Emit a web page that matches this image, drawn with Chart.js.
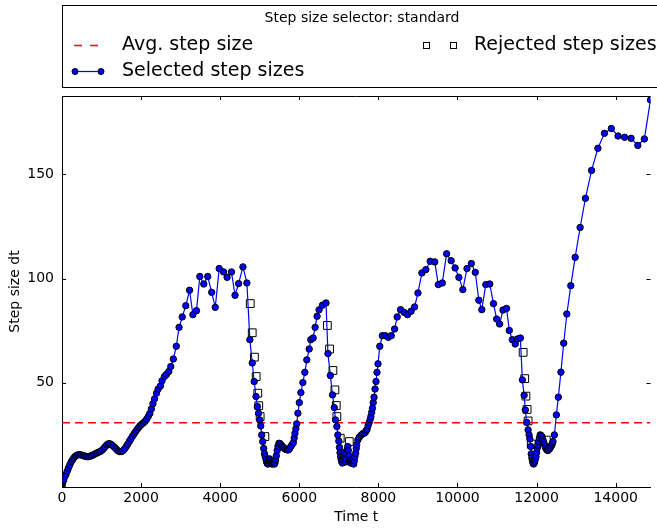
<!DOCTYPE html>
<html>
<head>
<meta charset="utf-8">
<script src="https://cdn.jsdelivr.net/npm/chart.js@4.4.1/dist/chart.umd.min.js"></script>
<style>
  html, body { margin: 0; padding: 0; background: #fff; }
  canvas { display: block; }
</style>
</head>
<body>
<canvas id="stepChart" width="657" height="530"></canvas>
<script>
// Tiempos de los pasos aceptados (t) y su tamaño (dt)
const stepTimes = [
  0, 10, 25, 45, 70, 100, 130, 160, 195, 230, 265, 300, 340, 380, 420, 460, 500, 540, 580, 620,
  660, 700, 740, 780, 820, 860, 900, 940, 980, 1020, 1060, 1100, 1140, 1180, 1220, 1260, 1300, 1340, 1380, 1420,
  1460, 1500, 1540, 1580, 1620, 1660, 1700, 1740, 1780, 1820, 1860, 1900, 1940, 1980, 2020, 2060, 2100, 2140, 2180, 2220,
  2260, 2300, 2340, 2390, 2430, 2490, 2530, 2590, 2640, 2700, 2750, 2815, 2890, 2960, 3040, 3130, 3225, 3310, 3400, 3485,
  3585, 3685, 3785, 3875, 3975, 4085, 4175, 4285, 4375, 4465, 4575, 4675,
  4750, 4810, 4860, 4905, 4940, 4970, 5000, 5025, 5050, 5075, 5100, 5120, 5140, 5160, 5175, 5190, 5205, 5220, 5235, 5250,
  5265, 5280, 5295, 5310, 5325, 5340, 5355, 5370, 5385, 5400, 5420, 5440, 5460, 5485, 5515, 5545, 5575, 5605, 5635, 5665,
  5695, 5725, 5755, 5785, 5815, 5850, 5870, 5890, 5915, 5935, 5965, 6000, 6040, 6090, 6140, 6190, 6250, 6290, 6350, 6400,
  6450, 6500, 6585, 6675,
  6725, 6785, 6840, 6885, 6915, 6950, 6975, 7000, 7015, 7030, 7045, 7060, 7075, 7090, 7105, 7120, 7135, 7150, 7165, 7180,
  7195, 7210, 7225, 7240, 7255, 7270, 7285, 7300, 7315, 7330, 7345, 7360, 7375, 7390, 7405, 7425, 7440, 7450, 7480, 7515,
  7560, 7600, 7630, 7665, 7690, 7715, 7740, 7765, 7790, 7810, 7830, 7850, 7870, 7890, 7915, 7940, 7965, 7990, 8035, 8100,
  8175, 8250, 8325, 8410, 8475, 8560, 8650, 8735, 8825, 8915, 9000, 9100, 9200, 9310, 9425, 9515, 9615, 9725, 9840, 9940,
  10035, 10135, 10240, 10350, 10450, 10540, 10615, 10715, 10815, 10910, 10990, 11065, 11150, 11240, 11310, 11385, 11460, 11515, 11590,
  11640, 11685, 11715, 11750, 11785, 11810, 11830, 11850, 11865, 11880, 11895, 11910, 11925, 11940, 11955, 11970, 11985, 12000, 12015, 12030,
  12050, 12070, 12090, 12110, 12135, 12155, 12175, 12195, 12215, 12235, 12260, 12285, 12310, 12340, 12365, 12385, 12400, 12415, 12450, 12500,
  12550, 12615, 12685, 12765, 12865, 12975, 13100, 13235, 13390, 13550, 13715, 13890, 14060, 14225, 14390, 14560, 14725, 14880
];
const stepSizes = [
  0.5, 1.5, 2.5, 3.5, 5, 6, 7.5, 9, 10.5, 12, 13, 14, 14.8, 15.3, 15.5, 15.5, 15.3, 15, 14.8, 14.6,
  14.5, 14.7, 15, 15.3, 15.7, 16.1, 16.5, 16.8, 17.2, 17.8, 18.6, 19.5, 20.3, 20.8, 20.7, 20.2, 19.5, 18.8, 18, 17.3,
  17, 17, 17.4, 18.2, 19.3, 20.5, 21.8, 23, 24.3, 25.4, 26.5, 27.6, 28.6, 29.5, 30.2, 30.8, 31.5, 32.5, 33.8, 35.3,
  37.5, 40, 42.3, 45, 47, 48.5, 51, 53, 54, 55.4, 57.8, 61.4, 67.5, 76.6, 81.6, 87, 94.4, 82.7, 84.6, 101,
  97.4, 101, 93.4, 86.2, 104.8, 103.2, 100.6, 103.2, 92, 97.6, 105.6, 97.9,
  70.7, 59.5, 50.6, 43.4, 38.6, 35.4, 32.2, 29.3, 25, 21.8, 18.5, 16, 14.5, 13, 12, 11.3, 11, 11.5, 12.5, 13.5,
  13, 12, 11.3, 11, 11.3, 12, 11.5, 11, 11.5, 13, 15, 17.5, 19.5, 21, 20.8, 20, 19.4, 18.8, 18.3, 18,
  17.8, 17.8, 18.5, 19.4, 20.3, 21.3, 23.5, 25.8, 28, 30.3, 35.4, 40.5, 45.3, 50.1, 55, 61, 66.2, 70.7, 71.5, 76.6,
  81.9, 85, 87.2, 88.3,
  64, 53.5, 44.2, 38.1, 32.2, 29, 25, 22, 19, 16.5, 14.5, 13, 12, 11.5, 13, 15, 16.5, 14, 12, 13.5,
  16.2, 18, 19.4, 17.5, 15, 13, 12, 11.5, 12.5, 13, 12, 11.3, 11, 12.5, 14.5, 16.2, 18.5, 20.2, 22.5, 23.9,
  24.8, 25.5, 25.8, 26.1, 27, 27.7, 29.5, 30.9, 32.3, 33.8, 35.8, 37.8, 40.5, 43.1, 47, 50.6, 55, 59.1, 67.5, 72.6,
  72.6, 71.8, 72.6, 75.8, 81.6, 85.1, 83.8, 82.7, 84.3, 86.4, 93.1, 102.7, 104.3, 108.3, 108, 97.1, 97.9, 111.9, 108.6, 105.1,
  100.6, 94.7, 104.8, 107.2, 103, 89.6, 85.1, 97.1, 97.4, 88, 80.6, 78.2, 84.9, 85.7, 75.1, 70.7, 68.6, 71, 71.5,
  51.4, 44, 37, 31, 27.4, 25, 23, 19.4, 15.9, 14, 12.5, 11.5, 11, 11.5, 12.5, 13.5, 14.6, 16.5, 18.6, 20,
  21.8, 23.5, 25, 24.8, 24.2, 23, 21.8, 20.5, 19.4, 18.5, 17.8, 17.5, 18, 18.6, 19.5, 20.2, 21, 21.8, 25, 34.6,
  43.1, 55.1, 69, 83, 96.6, 110.2, 124.5, 138.5, 151.9, 162.5, 169.7, 172, 168.4, 167.8, 167.3, 163.9, 167, 185.7
];

// Pasos rechazados
const rejectedTimes = [4760, 4810, 4865, 4910, 4950, 4975, 5010, 5130,
  6710, 6765, 6850, 6900, 6935, 6950, 7035, 7265,
  11660, 11700, 11730, 11760, 11785, 11865, 12245];
const rejectedSizes = [88, 74, 62.3, 53, 45, 39, 33.8, 24.2,
  77.5, 66.2, 55.9, 46.6, 39.1, 33.8, 23.4, 21.8,
  64.6, 52, 43.6, 37.2, 31.7, 20.6, 22.5];

const avgStepSize = 30.8;
const xTicks = [0, 2000, 4000, 6000, 8000, 10000, 12000, 14000];
const yTicks = [50, 100, 150];
const xMax = 14880;
const yMax = 187.6;

const FONT = '"DejaVu Sans", sans-serif';

// Ticks hacia adentro y marco superior (estilo matplotlib)
const innerTicks = {
  id: 'innerTicks',
  afterDraw(chart) {
    const { ctx, chartArea: a } = chart;
    const xs = chart.scales.x;
    const ys = chart.scales.y;
    ctx.save();
    ctx.strokeStyle = '#000';
    ctx.lineWidth = 1;
    ctx.beginPath();
    ctx.moveTo(a.left, a.top + 0.5);
    ctx.lineTo(a.right, a.top + 0.5);
    xTicks.forEach(v => {
      const px = Math.round(xs.getPixelForValue(v)) + 0.5;
      ctx.moveTo(px, a.bottom);
      ctx.lineTo(px, a.bottom - 4);
      ctx.moveTo(px, a.top);
      ctx.lineTo(px, a.top + 4);
    });
    yTicks.forEach(v => {
      const py = Math.round(ys.getPixelForValue(v)) + 0.5;
      ctx.moveTo(a.left, py);
      ctx.lineTo(a.left + 4, py);
      ctx.moveTo(a.right, py);
      ctx.lineTo(a.right - 4, py);
    });
    ctx.stroke();
    ctx.restore();
  }
};

// Leyenda dibujada a mano arriba del gráfico
const legendBox = {
  id: 'legendBox',
  afterDraw(chart) {
    const ctx = chart.ctx;
    ctx.save();
    ctx.strokeStyle = '#000';
    ctx.lineWidth = 1;
    ctx.strokeRect(62.5, 5.5, 700, 82);

    ctx.fillStyle = '#000';
    ctx.textBaseline = 'middle';
    ctx.textAlign = 'center';
    ctx.font = '14px ' + FONT;
    ctx.fillText('Step size selector: standard', 362, 18);

    ctx.textAlign = 'left';
    ctx.font = '19px ' + FONT;
    ctx.fillText('Avg. step size', 122, 45);
    ctx.fillText('Selected step sizes', 122, 71);
    ctx.fillText('Rejected step sizes', 474, 45);

    // línea roja discontinua
    ctx.strokeStyle = '#ff0000';
    ctx.lineWidth = 1.5;
    ctx.setLineDash([8, 8]);
    ctx.beginPath();
    ctx.moveTo(74, 45.5);
    ctx.lineTo(102, 45.5);
    ctx.stroke();
    ctx.setLineDash([]);

    // línea azul con puntos
    ctx.strokeStyle = '#0000ff';
    ctx.lineWidth = 1.2;
    ctx.beginPath();
    ctx.moveTo(75, 71.5);
    ctx.lineTo(101, 71.5);
    ctx.stroke();
    [75, 101].forEach(x => {
      ctx.beginPath();
      ctx.arc(x, 71.5, 3, 0, Math.PI * 2);
      ctx.fillStyle = '#0000ff';
      ctx.fill();
      ctx.strokeStyle = '#000';
      ctx.lineWidth = 1;
      ctx.stroke();
    });

    // cuadrados de rechazados
    ctx.strokeStyle = '#000';
    ctx.lineWidth = 1;
    ctx.fillStyle = '#fff';
    [426, 453].forEach(x => {
      ctx.fillRect(x - 3, 42, 7, 7);
      ctx.strokeRect(x - 3 + 0.5, 42.5, 6, 6);
    });
    ctx.restore();
  }
};

document.addEventListener('DOMContentLoaded', () => {
  const ctx = document.getElementById('stepChart').getContext('2d');

  const selected = stepTimes.map((t, i) => ({ x: t, y: stepSizes[i] }));
  const rejected = rejectedTimes.map((t, i) => ({ x: t, y: rejectedSizes[i] }));
  const avgLine = [{ x: 0, y: avgStepSize }, { x: xMax, y: avgStepSize }];

  new Chart(ctx, {
    type: 'scatter',
    data: {
      datasets: [
        {
          label: 'Rejected step sizes',
          data: rejected,
          pointStyle: 'rect',
          pointRadius: 5.5,
          pointBackgroundColor: '#ffffff',
          pointBorderColor: '#000000',
          pointBorderWidth: 1,
          order: 3
        },
        {
          label: 'Avg. step size',
          data: avgLine,
          showLine: true,
          borderColor: '#ff0000',
          borderWidth: 1.5,
          borderDash: [8, 5],
          pointRadius: 0,
          order: 2
        },
        {
          label: 'Selected step sizes',
          data: selected,
          showLine: true,
          borderColor: '#0000ff',
          borderWidth: 1.2,
          pointRadius: 3.2,
          pointBackgroundColor: '#0000ff',
          pointBorderColor: '#000000',
          pointBorderWidth: 1,
          order: 1
        }
      ]
    },
    options: {
      responsive: false,
      animation: false,
      devicePixelRatio: 1,
      layout: { padding: { top: 96, left: 0, right: 0, bottom: 0 } },
      plugins: {
        legend: { display: false },
        tooltip: { enabled: false }
      },
      scales: {
        x: {
          type: 'linear',
          min: 0,
          max: xMax,
          afterFit: s => { s.height = 43; },
          afterBuildTicks: s => { s.ticks = xTicks.map(v => ({ value: v })); },
          grid: { display: true, drawOnChartArea: false, drawTicks: false },
          border: { display: true, color: '#000', width: 1 },
          ticks: {
            padding: 3,
            color: '#000',
            font: { family: FONT, size: 14 },
            maxRotation: 0,
            callback: v => String(v)
          },
          title: {
            display: true,
            text: 'Time t',
            color: '#000',
            font: { family: FONT, size: 14 },
            padding: { top: 0, bottom: 4 }
          }
        },
        y: {
          type: 'linear',
          min: 0,
          max: yMax,
          afterFit: s => { s.width = 62; },
          afterBuildTicks: s => { s.ticks = yTicks.map(v => ({ value: v })); },
          grid: { display: true, drawOnChartArea: false, drawTicks: false },
          border: { display: true, color: '#000', width: 1 },
          ticks: {
            padding: 8,
            color: '#000',
            font: { family: FONT, size: 14 },
            callback: v => String(v)
          },
          title: {
            display: true,
            text: 'Step size dt',
            color: '#000',
            font: { family: FONT, size: 14 },
            padding: { top: 7, bottom: 0 }
          }
        }
      }
    },
    plugins: [innerTicks, legendBox]
  });
});
</script>
</body>
</html>
